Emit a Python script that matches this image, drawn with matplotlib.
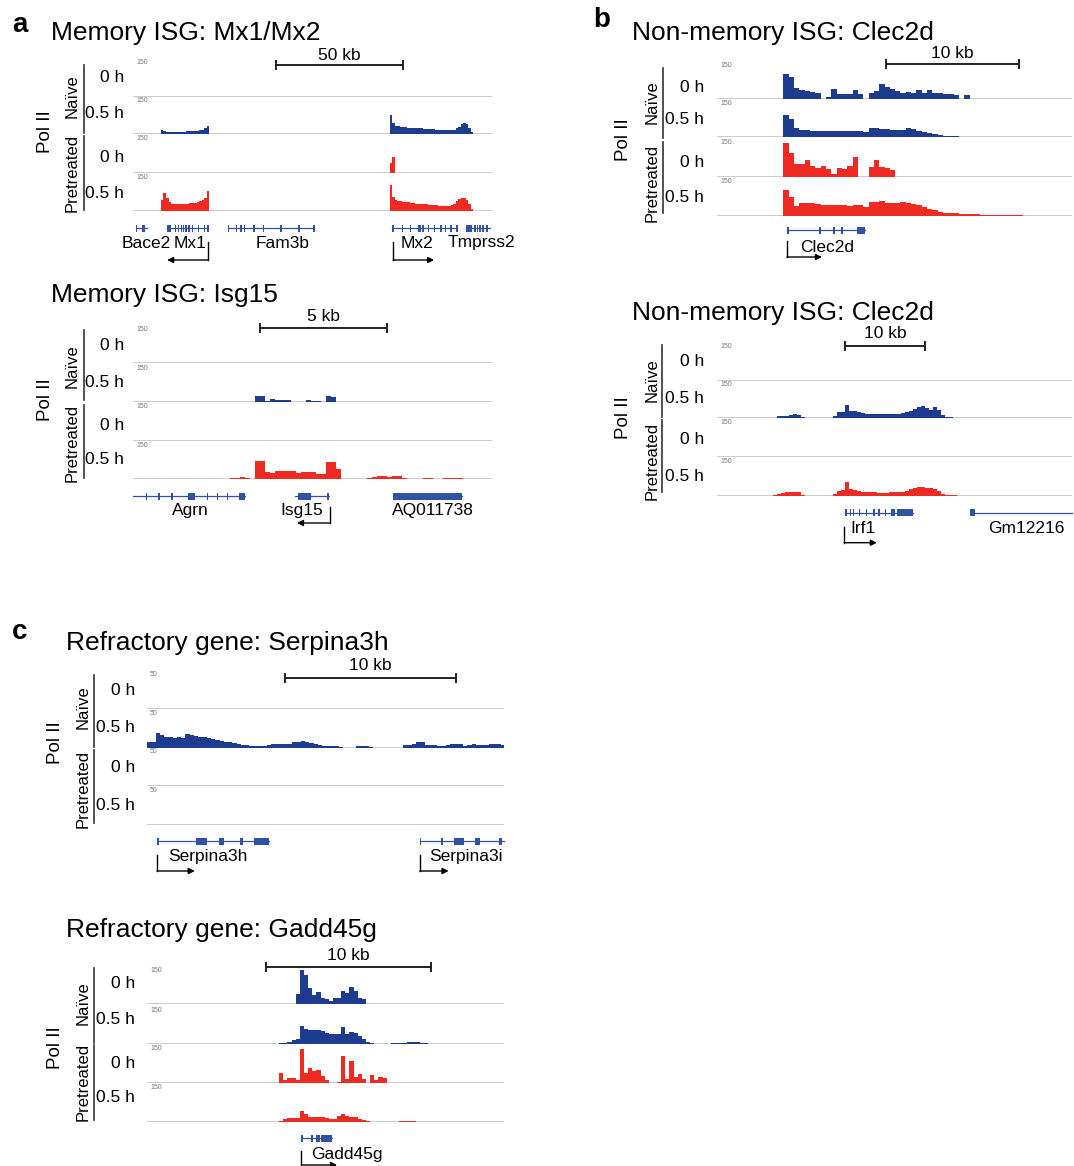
import numpy as np
import matplotlib.pyplot as plt
from matplotlib.lines import Line2D

plt.rcParams['font.family'] = ['Liberation Sans', 'DejaVu Sans']

W, H = 1074, 1166
BLUE = '#1d3c8f'
RED = '#ee2a22'
GENE = '#2f52a3'
GRID = '#c8c8c8'
TH = 34  # px of one track at full scale

# ---------------- data (kb coordinates, Pol II signal per bin) ----------------
# a: Mx1/Mx2, bins of 1 kb
mx_naive_0h = []
mx_naive_05h = [(11, [18, 15, 12, 11, 11, 11, 11, 12, 12, 12, 13, 13, 14, 14, 15, 17, 20, 28, 38]),
                (101, [85, 48, 38, 36, 34, 32, 31, 30, 29, 28, 28, 27, 26, 25, 24, 24, 23, 22, 21, 20,
                       20, 19, 18, 18, 19, 21, 26, 34, 46, 51, 44, 30, 12])]
mx_pre_0h = [(101, [45, 70])]
mx_pre_05h = [(11, [50, 79, 60, 40, 33, 32, 32, 32, 33, 33, 34, 35, 36, 38, 40, 44, 50, 60, 91]),
              (101, [116, 62, 50, 46, 44, 42, 40, 39, 37, 36, 34, 33, 32, 31, 30, 29, 28, 27, 26, 25,
                     24, 23, 23, 24, 26, 32, 45, 56, 60, 58, 48, 30, 10])]
mx_genes = [(1.2, 5.5, [(1.2, 1.6), (3.4, 4.7)]),
            (13.4, 29.5, [(13.4, 14.8), (16.4, 16.7), (17.6, 17.9), (18.8, 19.2), (19.7, 20.1), (20.6, 21.0),
                          (21.7, 22.0), (23.1, 23.4), (25.4, 25.7), (27.8, 28.1), (29.2, 29.5)]),
            (37.4, 71.3, [(37.4, 37.7), (40.4, 40.7), (42.2, 42.9), (43.6, 43.9), (47.4, 47.7), (51.0, 51.3),
                          (58.0, 58.3), (65.0, 65.3), (71.0, 71.3)]),
            (102.0, 127.6, [(102.0, 102.3), (105.8, 106.1), (109.0, 109.3), (112.2, 113.2), (113.8, 114.1),
                            (116.0, 116.3), (118.4, 118.9), (120.9, 121.2), (122.8, 123.1), (124.8, 125.1),
                            (127.3, 127.6)]),
            (131.1, 140.6, [(131.1, 133.4), (134.3, 134.6), (135.3, 135.6), (136.3, 136.6), (137.4, 137.7),
                            (139.0, 139.3)])]
mx_labels = [('Bace2', 5.1), ('Mx1', 22.4), ('Fam3b', 58.7), ('Mx2', 111.8), ('Tmprss2', 137.0)]
mx_arrows = [(29.5, 13.4), (102.4, 118.5)]

# a: Isg15, bins of 0.2 kb
is_naive_0h = []
is_naive_05h = [(4.8, [28, 27, 6, 14, 11, 10, 9, 2, 0, 3, 10, 5, 7, 3, 26, 24, 2])]
is_pre_0h = []
is_pre_05h = [(0.0, [0, 0, 0, 0, 0, 0, 0, 0, 0, 0, 0, 0, 0, 0, 1, 2, 2, 3, 3, 4, 6, 8, 4, 0,
                     81, 80, 30, 29, 36, 38, 38, 36, 29, 30, 31, 31, 22, 22, 78, 76, 45, 2, 1, 1, 2, 3,
                     6, 12, 15, 14, 12, 16, 14, 5, 3, 3, 3, 4, 4, 3, 3, 4, 5, 5, 4, 3, 3, 3, 3, 2])]
is_genes = [(0.0, 4.41, [(0.5, 0.55), (1.0, 1.05), (1.5, 1.55), (2.17, 2.44), (2.9, 2.95), (3.3, 3.35),
                         (3.7, 3.75), (4.17, 4.41)]),
            (6.38, 7.72, [(6.5, 7.01), (7.62, 7.72)]),
            (10.24, 12.95, [(10.24, 12.95)])]
is_labels = [('Agrn', 2.24), ('Isg15', 6.65), ('AQ011738', 11.81)]
is_arrows = [(7.76, 6.45)]

# b: Clec2d, bins of 0.4 kb
cl_naive_0h = [(5.0, [112, 100, 50, 42, 36, 32, 30, 0, 10, 46, 22, 22, 24, 40, 22, 0, 30, 36, 68, 56, 46,
                      36, 30, 34, 28, 40, 30, 40, 28, 26, 24, 22, 20, 0, 18])]
cl_naive_05h = [(5.0, [99, 80, 40, 32, 32, 30, 30, 29, 28, 28, 28, 27, 27, 26, 26, 24, 40, 42, 36, 38, 34,
                       32, 34, 40, 36, 30, 24, 18, 13, 9, 6, 5, 4, 3, 3, 2, 2, 2, 1, 1, 1])]
cl_pre_0h = [(5.0, [150, 105, 58, 55, 72, 48, 40, 46, 36, 10, 38, 36, 46, 86, 0, 0, 42, 72, 44, 40, 30])]
cl_pre_05h = [(5.0, [113, 84, 42, 56, 57, 54, 50, 48, 47, 46, 46, 45, 44, 46, 48, 40, 60, 62, 66, 58, 56,
                     58, 60, 56, 52, 46, 38, 30, 24, 18, 14, 12, 10, 9, 8, 7, 6, 5, 5, 4, 4, 3, 3, 2, 2])]
cl_genes = [(5.26, 11.1, [(5.26, 5.4), (7.65, 7.8), (8.75, 8.9), (9.35, 9.5), (10.5, 11.1)])]
cl_labels = [('Clec2d', 8.3)]
cl_arrows = [(5.26, 7.9)]

# b: Irf1 locus, bins of 0.5 kb
ir_naive_0h = []
ir_naive_05h = [(7.0, [3, 8, 10, 12, 14, 18, 16, 5]),
                (14.5, [10, 26, 30, 60, 34, 32, 26, 22, 20, 19, 19, 18, 18, 19, 19, 20, 21, 22, 26, 32,
                        42, 48, 55, 44, 36, 50, 38, 14, 6, 4, 3, 2, 0, 0, 2, 1])]
ir_pre_0h = []
ir_pre_05h = [(7.0, [2, 6, 14, 16, 17, 18, 15, 4]),
              (14.5, [6, 20, 24, 62, 28, 24, 20, 17, 16, 15, 15, 14, 14, 14, 15, 15, 16, 18, 22, 30,
                      36, 40, 38, 34, 32, 30, 22, 8, 4, 3, 2])]
ir_genes = [(16.0, 24.5, [(16.0, 16.25), (16.6, 16.75), (17.0, 17.15), (17.7, 17.85), (18.6, 18.75),
                          (19.5, 19.8), (20.1, 20.4), (21.0, 21.15), (21.8, 22.3), (22.5, 24.5)]),
            (31.6, 45.0, [(31.6, 32.25)])]
ir_labels = [('Irf1', 18.3), ('Gm12216', 38.7)]
ir_arrows = [(15.9, 20.0)]

# c: Serpina3h, bins of 0.25 kb
se_naive_0h = []
se_naive_05h = [(0.0, [9, 9, 21, 18, 16, 16, 15, 16, 15, 20, 18, 17, 16, 16, 14, 13, 12, 10, 9, 8, 7,
                       6, 4, 4, 3, 3, 3, 3, 4, 5, 5, 5, 6, 6, 8, 9, 10, 9, 7, 5, 4, 2, 2, 2, 2, 1,
                       0, 0, 0, 2, 2, 2, 1, 0, 0, 0, 0, 0, 0, 0, 4, 4, 5, 9, 8, 4, 4, 4, 3, 3, 4,
                       5, 6, 5, 3, 4, 5, 4, 4, 4, 5, 5, 5, 4])]
se_pre_0h = []
se_pre_05h = []
se_genes = [(0.58, 7.13, [(0.58, 0.68), (2.87, 3.5), (4.2, 4.5), (5.44, 5.6), (6.26, 7.13)]),
            (15.96, 20.9, [(15.96, 16.06), (17.2, 17.3), (17.95, 18.54), (19.2, 19.5), (20.6, 20.8)])]
se_labels = [('Serpina3h', 3.55), ('Serpina3i', 18.7)]
se_arrows = [(0.58, 2.8), (15.96, 17.66)]

# c: Gadd45g, bins of 0.25 kb
ga_naive_0h = [(9.0, [44, 150, 130, 70, 42, 56, 26, 22, 14, 26, 30, 60, 50, 75, 60, 28, 22])]
ga_naive_05h = [(8.0, [3, 6, 10, 16, 24, 78, 64, 62, 60, 60, 56, 48, 44, 42, 46, 74, 46, 52, 48, 36, 22,
                       8, 3, 2, 0, 0, 2, 4, 4, 5, 6, 8, 10, 8, 5, 4, 2])]
ga_pre_0h = [(8.0, [44, 12, 20, 22, 14, 150, 44, 66, 52, 56, 30, 14, 0, 0, 4, 118, 18, 96, 26, 40, 18,
                    0, 34, 12, 24, 22])]
ga_pre_05h = [(8.0, [2, 12, 15, 16, 16, 48, 34, 22, 20, 19, 19, 16, 12, 12, 24, 32, 24, 22, 20, 12, 8, 3]),
              (15.25, [2, 4, 4, 2])]
ga_genes = [(9.29, 11.17, [(9.29, 9.45), (9.92, 10.02), (10.23, 10.44), (10.54, 11.17)])]
ga_labels = [('Gadd45g', 12.1)]
ga_arrows = [(9.33, 11.5)]

row_names = ['0 h', '0.5 h', '0 h', '0.5 h']

# ---------------- layout (pixels) ----------------
panels = [
    dict(title='Memory ISG: Mx1/Mx2', tx=51, ty=33, left=133, right=492, span=141.3, bin=1.0, ymax=150,
         bases=[96.7, 134.3, 172.7, 211.3], rows=[77, 113, 157, 193], rx=124,
         tracks=[mx_naive_0h, mx_naive_05h, mx_pre_0h, mx_pre_05h],
         genes=mx_genes, labels=mx_labels, arrows=mx_arrows, gy=228, ldy=15, ady=(14, 32),
         scale=(56.3, 106.3, 65, '50 kb', 55),
         grp=(72, 96, 173), bar_x=84, bars=[(65, 133), (136, 210)], pol=(45, 132)),
    dict(title='Memory ISG: Isg15', tx=51, ty=295, left=133, right=492, span=14.13, bin=0.2, ymax=150,
         bases=[363.3, 402.3, 441, 479.3], rows=[345.7, 382.7, 425, 460], rx=124,
         tracks=[is_naive_0h, is_naive_05h, is_pre_0h, is_pre_05h],
         genes=is_genes, labels=is_labels, arrows=is_arrows, gy=496, ldy=14, ady=(11, 27),
         scale=(5.0, 10.0, 327.7, '5 kb', 316.7),
         grp=(72, 366, 443), bar_x=84, bars=[(330, 400), (405, 478)], pol=(45, 400)),
    dict(title='Non-memory ISG: Clec2d', tx=632, ty=33, left=717, right=1072, span=26.7, bin=0.4, ymax=150,
         bases=[99.3, 137.3, 176.7, 215.7], rows=[87, 120, 163, 197], rx=704,
         tracks=[cl_naive_0h, cl_naive_05h, cl_pre_0h, cl_pre_05h],
         genes=cl_genes, labels=cl_labels, arrows=cl_arrows, gy=230, ldy=17, ady=(11, 27),
         scale=(12.7, 22.7, 64, '10 kb', 53),
         grp=(652, 102, 183), bar_x=663, bars=[(68, 138), (142, 213)], pol=(623, 140)),
    dict(title='Non-memory ISG: Clec2d', tx=632, ty=313, left=717, right=1072, span=44.4, bin=0.5, ymax=150,
         bases=[380.7, 418.3, 456.7, 495.7], rows=[361.7, 398.3, 440, 476.7], rx=704,
         tracks=[ir_naive_0h, ir_naive_05h, ir_pre_0h, ir_pre_05h],
         genes=ir_genes, labels=ir_labels, arrows=ir_arrows, gy=512.7, ldy=16, ady=(14, 30),
         scale=(16.0, 26.0, 346, '10 kb', 333),
         grp=(652, 380, 461), bar_x=662, bars=[(345, 417), (420, 492)], pol=(623, 418)),
    dict(title='Refractory gene: Serpina3h', tx=66, ty=643, left=147, right=504, span=20.9, bin=0.25, ymax=50,
         bases=[709, 747.7, 785.7, 825], rows=[690.7, 728, 767, 805], rx=135,
         tracks=[se_naive_0h, se_naive_05h, se_pre_0h, se_pre_05h],
         genes=se_genes, labels=se_labels, arrows=se_arrows, gy=841, ldy=16, ady=(14, 30),
         scale=(8.1, 18.1, 677.7, '10 kb', 665),
         grp=(83, 707, 789), bar_x=94, bars=[(675, 747), (750, 823)], pol=(55, 743)),
    dict(title='Refractory gene: Gadd45g', tx=66, ty=930, left=147, right=504, span=21.6, bin=0.25, ymax=150,
         bases=[1004.3, 1044, 1082.7, 1121.7], rows=[984, 1020, 1063, 1098], rx=135,
         tracks=[ga_naive_0h, ga_naive_05h, ga_pre_0h, ga_pre_05h],
         genes=ga_genes, labels=ga_labels, arrows=ga_arrows, gy=1138, ldy=17, ady=(13, 27),
         scale=(7.2, 17.2, 966.7, '10 kb', 956),
         grp=(83, 1003, 1082), bar_x=94, bars=[(968, 1043), (1045, 1120)], pol=(55, 1048)),
]

fig = plt.figure(figsize=(W / 100, H / 100), dpi=100)


def ftext(x, y, s, **kw):
    fig.text(x / W, 1 - y / H, s, **kw)


for p in panels:
    wpx = p['right'] - p['left']
    # signal tracks
    for base, segs, i in zip(p['bases'], p['tracks'], range(4)):
        ax = fig.add_axes([p['left'] / W, 1 - base / H, wpx / W, TH / H])
        ax.set_xlim(0, p['span'])
        ax.set_ylim(0, p['ymax'])
        col = BLUE if i < 2 else RED
        for start, vals in segs:
            edges = start + p['bin'] * np.arange(len(vals) + 1)
            ax.stairs(vals, edges, fill=True, color=col, lw=0, zorder=2)
        ax.axhline(0, color=GRID, lw=1.3, zorder=1)
        ax.text(3 / wpx, 1.0, str(p['ymax']), transform=ax.transAxes, fontsize=5, color='#777777',
                ha='left', va='center')
        ax.axis('off')

    # overlay: x in kb, y in figure pixels
    ov = fig.add_axes([p['left'] / W, 0, wpx / W, 1])
    ov.set_xlim(0, p['span'])
    ov.set_ylim(H, 0)
    ov.axis('off')

    s0, s1, sy, slab, ly = p['scale']
    ov.plot([s0, s1], [sy, sy], color='#222222', lw=1.4, clip_on=False)
    for s in (s0, s1):
        ov.plot([s, s], [sy - 4, sy + 4], color='#222222', lw=1.4, clip_on=False)
    ov.text((s0 + s1) / 2, ly, slab, fontsize=12.5, ha='center', va='center')

    gy = p['gy']
    for g0, g1, exons in p['genes']:
        ov.plot([g0, min(g1, p['span'])], [gy, gy], color=GENE, lw=0.9, clip_on=False)
        for e0, e1 in exons:
            w = max(e1 - e0, p['span'] * 0.004)
            ov.barh(gy, w, left=e0, height=7, color=GENE, lw=0)
    for name, lx in p['labels']:
        ov.text(lx, gy + p['ldy'], name, fontsize=12.5, ha='center', va='center', clip_on=False)
    a0, a1 = p['ady']
    for x0, x1 in p['arrows']:
        ov.plot([x0, x0], [gy + a0, gy + a1], color='k', lw=1, clip_on=False)
        ov.annotate('', xy=(x1, gy + a1), xytext=(x0, gy + a1), annotation_clip=False,
                    arrowprops=dict(arrowstyle='-|>', color='k', lw=1, mutation_scale=9,
                                    shrinkA=0, shrinkB=0))

    # text labels around tracks
    ftext(p['tx'], p['ty'], p['title'], fontsize=19, ha='left', va='center')
    for name, ry in zip(row_names, p['rows']):
        ftext(p['rx'], ry, name, fontsize=12.5, ha='right', va='center')
    gx, ny, py = p['grp']
    ftext(gx, ny, 'Naïve', fontsize=12, rotation=90, ha='center', va='center')
    ftext(gx, py, 'Pretreated', fontsize=12, rotation=90, ha='center', va='center')
    ftext(p['pol'][0], p['pol'][1], 'Pol II', fontsize=13.5, rotation=90, ha='center', va='center')
    for y0, y1 in p['bars']:
        fig.add_artist(Line2D([p['bar_x'] / W] * 2, [1 - y0 / H, 1 - y1 / H], color='#333333', lw=1.2))

ftext(12, 25, 'a', fontsize=20, fontweight='bold', ha='left', va='center')
ftext(593, 20, 'b', fontsize=20, fontweight='bold', ha='left', va='center')
ftext(12, 632, 'c', fontsize=20, fontweight='bold', ha='left', va='center')

fig.savefig('out.png', dpi=100, facecolor='white')
